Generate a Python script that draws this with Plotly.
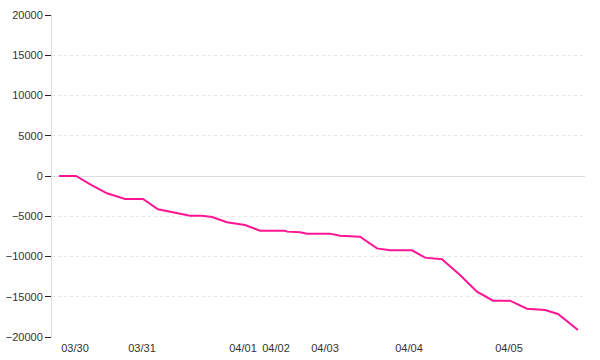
import plotly.graph_objects as go

# sample index and cumulative value
sample_idx = [0, 3.4, 6.6, 9.6, 13.2, 16.8, 19.8, 22.8, 26.2, 28.6, 30.6, 33.6, 37.2,
              40.2, 45.2, 45.6, 48.2, 49.6, 54.2, 56.2, 60.2, 63.6, 66.2, 70.6, 73.2,
              76.6, 80.2, 83.6, 86.8, 90.2, 93.6, 97.2, 99.8, 103.8]
values = [0, 0, -1150, -2150, -2850, -2850, -4140, -4550, -4930, -4930, -5100, -5750, -6090,
          -6790, -6790, -6910, -7000, -7160, -7160, -7410, -7540, -8990, -9230, -9230, -10140,
          -10350, -12300, -14370, -15490, -15490, -16480, -16640, -17140, -19130]

tick_pos = [3.2, 16.6, 36.8, 43.4, 53.2, 70.0, 90.0]
tick_labels = ["03/30", "03/31", "04/01", "04/02", "04/03", "04/04", "04/05"]
y_ticks = [-20000, -15000, -10000, -5000, 0, 5000, 10000, 15000, 20000]
y_labels = ["\u221220000", "\u221215000", "\u221210000", "\u22125000", "0",
            "5000", "10000", "15000", "20000"]

fig = go.Figure(go.Scatter(x=sample_idx, y=values, mode="lines",
                           line=dict(color="#ff1493", width=2), hoverinfo="skip"))

font = dict(family="Liberation Sans", size=11, color="#333")
fig.update_layout(
    width=600, height=360,
    margin=dict(l=52, r=15, t=15, b=23, autoexpand=False),
    plot_bgcolor="white", paper_bgcolor="white",
    showlegend=False,
    font=font,
)
fig.update_xaxes(range=[-1.4, 105.2], tickvals=tick_pos, ticktext=tick_labels,
                 tickangle=0, automargin=False, ticklabelstandoff=3,
                 showgrid=False, zeroline=False, showline=False, ticks="",
                 tickfont=font)
fig.update_yaxes(range=[-20000, 20000], tickvals=y_ticks, ticktext=y_labels,
                 automargin=False, showgrid=True,
                 gridcolor="#e6e6e6", griddash="dot", gridwidth=1,
                 zeroline=True, zerolinecolor="#dddddd", zerolinewidth=1,
                 showline=True, linecolor="#dddddd", linewidth=1,
                 ticks="outside", ticklen=6, tickcolor="#222", tickwidth=1,
                 tickfont=font)

fig.write_html("out.html")
